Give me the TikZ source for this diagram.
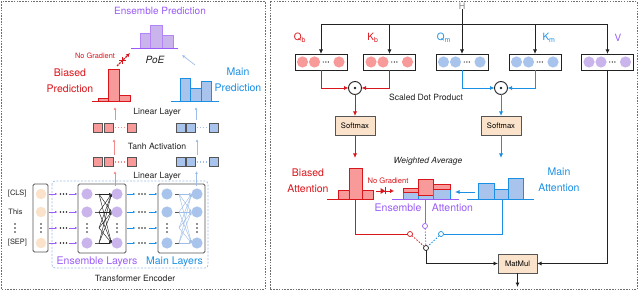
\documentclass[tikz,border=0pt]{standalone}
\usepackage{fontspec}
\setmainfont{TeX Gyre Heros}
\usetikzlibrary{arrows.meta,calc}
\definecolor{cred}{HTML}{D9161C}
\definecolor{cfred}{HTML}{F89A9A}
\definecolor{clred}{HTML}{F48A8A}
\definecolor{cblue}{HTML}{1A8FE3}
\definecolor{cfblue}{HTML}{A9C4EC}
\definecolor{clblue}{HTML}{9FBDE9}
\definecolor{cpurple}{HTML}{9A5CF7}
\definecolor{cfpurple}{HTML}{C9B5EC}
\definecolor{cpeach}{HTML}{FBE3CB}
\definecolor{cgray}{HTML}{555555}
\definecolor{cdark}{HTML}{222222}
\tikzset{
 every node/.style={inner sep=0pt, outer sep=0pt},
 fbig/.style={font=\fontsize{10.5}{15.5}\selectfont, align=center},
 fmid/.style={font=\fontsize{8.6}{10}\selectfont, text=cdark},
 fsml/.style={font=\fontsize{7.4}{9}\selectfont, text=cdark},
 panel/.style={draw=cgray!85, line width=1pt, dash pattern=on 1.5pt off 1.3pt},
 arr/.style={-{Latex[length=4.5pt,width=4pt]}, line width=0.8pt},
 sarr/.style={-{Latex[length=3pt,width=3pt]}, line width=0.7pt},
 tarr/.style={-{Latex[length=2.5pt,width=2.2pt]}, line width=0.45pt},
 vsq/.style={draw=cgray, line width=0.6pt, minimum size=9pt},
 qk/.style={draw=cdark, line width=0.8pt, minimum width=52pt, minimum height=16pt},
 op/.style={circle, draw=cdark, line width=0.9pt, minimum size=13pt, fill=white},
 sbox/.style={draw=cgray, fill=cpeach, line width=0.8pt, font=\fontsize{7.6}{9}\selectfont},
 lay/.style={draw=cgray, line width=0.8pt, rounded corners=1.5pt},
 sc/.style={circle, fill=white, line width=0.7pt, minimum size=5pt, draw},
 hred/.style={fill=cfred, draw=cred, line width=0.8pt},
 hblue/.style={fill=cfblue, draw=cblue, line width=0.8pt},
 hpur/.style={fill=cfpurple, draw=cpurple!75, line width=0.8pt},
}
\newcommand{\qkbox}[3]{%
 \node[qk] (#1) at (#2,62) {};
 \fill[#3] ($(#1.center)+(-18.5,0)$) circle[radius=5.6pt];
 \fill[#3] ($(#1.center)+(-6.5,0)$) circle[radius=5.6pt];
 \fill[#3] ($(#1.center)+(18,0)$) circle[radius=5.6pt];
 \foreach \d in {2.2,4.8,7.4} \fill[cdark] ($(#1.center)+(\d,0)$) circle[radius=0.7pt];
}
\newcommand{\vdotsat}[3]{% x, y, color
 \foreach \d in {-4,0,4} \fill[#3] (#1,#2+\d) circle[radius=0.9pt];
}
\newcommand{\hdotsat}[3]{%
 \foreach \d in {-3,0,3} \fill[#3] (#1+\d,#2) circle[radius=0.8pt];
}
\begin{document}
\begin{tikzpicture}[x=1pt,y=-1pt]
\useasboundingbox (0,0) rectangle (640,291);
\draw[panel] (1.5,1.5) rectangle (265,289.5);
\draw[panel] (270,1.5) rectangle (637,289.5);

%%%%%%%%%%%%%%%% LEFT PANEL
\node[font=\fontsize{10}{12}\selectfont, text=cpurple] (ensp) at (160,11) {Ensemble Prediction};
\draw[hpur] (140,33) rectangle (150,48);
\draw[hpur] (150,25) rectangle (162,48);
\draw[hpur] (162,35) rectangle (173,48);
\draw[cpurple, line width=0.8pt] (131,48) -- (178,48);
\node[font=\fontsize{10}{12}\selectfont\itshape, text=cdark] (poe) at (155,60) {PoE};

\node[font=\fontsize{7.4}{9}\selectfont, text=cred] (ng1) at (95,56) {No Gradient};
\coordinate (ngs) at (117,66); \coordinate (nge) at (130,53);
\draw[cred, line width=1.3pt, dash pattern=on 2pt off 1pt, -{Latex[length=4pt,width=4pt]}] (ngs) -- (nge);
\coordinate (ngm) at (122.5,60.5);
\draw[cred, line width=0.9pt] ($(ngm)+(-3.5,0)$) -- ($(ngm)+(3.5,0)$);
\draw[cred, line width=0.9pt] ($(ngm)+(0,-3.5)$) -- ($(ngm)+(0,3.5)$);

\coordinate (mpUp) at (195,65); \coordinate (poeR) at (182,55);
\draw[clblue, sarr] (mpUp) -- (poeR);

\node[fbig, text=cred] (bpred) at (70,81) {Biased\\Prediction};
\node[fbig, text=cblue] (mpred) at (238,80) {Main\\Prediction};

% biased prediction histogram
\draw[hred] (98,98) rectangle (108,101);
\draw[hred] (108,69) rectangle (119,101);
\draw[hred] (119,95) rectangle (130,101);
\draw[cred, line width=0.8pt] (92,101) -- (130,101);
% main prediction histogram
\draw[hblue] (180,78) rectangle (190,101);
\draw[hblue] (190,88) rectangle (201,101);
\draw[hblue] (201,81) rectangle (211,101);
\draw[cblue, line width=0.8pt] (171,101) -- (219,101);

% linear layer (top)
\node[fmid] (ll1) at (157,112) {Linear Layer};
\coordinate (rA0) at (115,120); \coordinate (rA1) at (115,107);
\coordinate (bA0) at (196,120); \coordinate (bA1) at (196,107);
\draw[clred, sarr] (rA0) -- (rA1);
\draw[clblue, sarr] (bA0) -- (bA1);

% vector rows
\foreach \yy/\nm in {127.5/1,162/2} {
 \node[vsq, fill=cfred] (r\nm a) at (98,\yy) {};
 \node[vsq, fill=cfred] (r\nm b) at (108.5,\yy) {};
 \node[vsq, fill=cfred] (r\nm c) at (131.5,\yy) {};
 \draw[clred, line width=1.3pt, dash pattern=on 1.3pt off 1.7pt] (r\nm b.east) ++(2,0) -- (r\nm c.west);
 \node[vsq, fill=cfblue] (b\nm a) at (180.5,\yy) {};
 \node[vsq, fill=cfblue] (b\nm b) at (190.5,\yy) {};
 \node[vsq, fill=cfblue] (b\nm c) at (213.5,\yy) {};
 \draw[clblue, line width=1.3pt, dash pattern=on 1.3pt off 1.7pt] (b\nm b.east) ++(2,0) -- (b\nm c.west);
}
\node[fmid] (tanh) at (157,146) {Tanh Activation};
\coordinate (rB0) at (114,155); \coordinate (rB1) at (114,139);
\coordinate (bB0) at (197,155); \coordinate (bB1) at (197,139);
\draw[clred, sarr] (rB0) -- (rB1);
\draw[clblue, sarr] (bB0) -- (bB1);
\node[fmid] (ll2) at (157,176) {Linear Layer};

% encoder
\draw[clblue, line width=0.8pt, dash pattern=on 2pt off 1.5pt, rounded corners=3pt] (52,181) rectangle (208,268);
\node[lay, minimum width=15pt, minimum height=68pt] (inp) at (40.5,218) {};
\node[lay, minimum width=48pt, minimum height=69pt] (ens) at (102,218.5) {};
\node[lay, minimum width=47pt, minimum height=69pt] (mainl) at (181.5,218.5) {};
\coordinate (rC0) at (115,186); \coordinate (rC1) at (115,171);
\coordinate (bC0) at (196.5,186); \coordinate (bC1) at (196.5,171);
\draw[clred, sarr] (rC0) -- (rC1);
\draw[clblue, sarr] (bC0) -- (bC1);

\node[fsml, anchor=west] (tcls) at (8,194) {[CLS]};
\node[fsml, anchor=west] (tthis) at (8.5,212) {This};
\vdotsat{15}{228}{cdark}
\node[fsml, anchor=west] (tsep) at (8,243) {[SEP]};

\foreach \yy in {194,212,243} {
 \fill[cpeach] (41,\yy) circle[radius=5.3pt];
 \fill[cfpurple] (87,\yy) circle[radius=5.6pt];
 \fill[cfpurple] (117,\yy) circle[radius=5.6pt];
 \fill[cfblue] (167,\yy) circle[radius=5.6pt];
 \fill[cfblue] (197,\yy) circle[radius=5.6pt];
 \draw[cgray, line width=0.6pt] (95,\yy) -- (98.5,\yy);
 \draw[cgray, line width=0.6pt] (175,\yy) -- (178.5,\yy);
}
\vdotsat{41}{228}{cdark}
\vdotsat{87}{228}{cdark}
\vdotsat{117}{228}{cdark}
\vdotsat{167}{228}{cdark}
\vdotsat{197}{228}{cdark}
\foreach \yy in {194,212,228,243} {
 \draw[cpurple, tarr] (49,\yy) -- (57.5,\yy);
 \hdotsat{63.5}{\yy}{cdark}
 \draw[cpurple, tarr] (69,\yy) -- (77.5,\yy);
 \draw[cblue, tarr] (127,\yy) -- (135.5,\yy);
 \hdotsat{142}{\yy}{cdark}
 \draw[cblue, tarr] (148.5,\yy) -- (157.5,\yy);
 \foreach \zz in {194,212,243} {
  \draw[cdark, tarr] (99,\yy) -- (111.5,\zz);
  \draw[clblue, tarr] (179,\yy) -- (191.5,\zz);
 }
}
\node[font=\fontsize{10.5}{12}\selectfont, text=cpurple] (ensl) at (97,262) {Ensemble Layers};
\node[font=\fontsize{10.5}{12}\selectfont, text=cblue] (mainlt) at (174.5,262) {Main Layers};
\node[font=\fontsize{8.6}{10}\selectfont, text=cdark] (tenc) at (135,278) {Transformer Encoder};

%%%%%%%%%%%%%%%% RIGHT PANEL
\node[font=\fontsize{9}{10}\selectfont, text=gray] (H) at (462,6) {H};
\qkbox{qb}{321}{cfred}
\qkbox{kb}{389.5}{cfred}
\qkbox{qm}{462}{cfblue}
\qkbox{km}{535}{cfblue}
\qkbox{vv}{607.5}{cfpurple}
\coordinate (hj) at (462,24.5);
\draw[cdark, line width=0.8pt] (H.south) -- (hj);
\draw[cdark, line width=0.8pt] (qb.north |- hj) -- (vv.north |- hj);
\foreach \b in {qb,kb,qm,km,vv} \draw[cdark, arr] (\b.north |- hj) -- (\b.north);

\node[font=\fontsize{10}{12}\selectfont, text=cred] (lqb) at (300,38) {Q\textsubscript{b}};
\node[font=\fontsize{10}{12}\selectfont, text=cred] (lkb) at (373,38) {K\textsubscript{b}};
\node[font=\fontsize{10}{12}\selectfont, text=cblue] (lqm) at (444,38) {Q\textsubscript{m}};
\node[font=\fontsize{10}{12}\selectfont, text=cblue] (lkm) at (549,38) {K\textsubscript{m}};
\node[font=\fontsize{10}{12}\selectfont, text=cpurple] (lv) at (618,38) {V};

\node[op] (dotb) at (355,88) {};
\fill[cdark] (dotb.center) circle[radius=1.4pt];
\node[op] (dotm) at (501,88) {};
\fill[cdark] (dotm.center) circle[radius=1.4pt];
\draw[cred, arr] (qb.south) |- (dotb.west);
\draw[cred, arr] (kb.south) |- (dotb.east);
\draw[cblue, arr] (qm.south) |- (dotm.west);
\draw[cblue, arr] (km.south) |- (dotm.east);
\node[fmid] (sdp) at (426,97) {Scaled Dot Product};

\node[sbox, minimum width=40pt, minimum height=19pt] (sfb) at (355,125.5) {Softmax};
\node[sbox, minimum width=40pt, minimum height=19pt] (sfm) at (501,125.5) {Softmax};
\draw[cred, arr] (dotb.south) -- (sfb.north);
\draw[cblue, arr] (dotm.south) -- (sfm.north);
\coordinate (batop) at (355,158);
\coordinate (matop) at (501,158);
\draw[cred, arr] (sfb.south) -- (batop);
\draw[cblue, arr] (sfm.south) -- (matop);

\node[font=\fontsize{8.5}{10}\selectfont\itshape, text=cdark] (wavg) at (428,161) {Weighted Average};

% biased attention
\node[fbig, text=cred] (batt) at (308,181) {Biased\\Attention};
\draw[hred] (338,190) rectangle (349,199);
\draw[hred] (349,168) rectangle (362,199);
\draw[hred] (362,190) rectangle (373,199);
\draw[cred, line width=0.8pt] (327,199) -- (373,199);
\coordinate (babot) at (355.5,199);

% no gradient diode
\node[font=\fontsize{7.6}{9}\selectfont, text=cred] (ng2) at (388,181) {No Gradient};
\coordinate (dg0) at (376,191); \coordinate (dg1) at (394,191);
\draw[cred, line width=0.9pt, -{Latex[length=4pt,width=4.5pt]}] (dg0) -- (dg1);
\fill[cred] (380.5,188) -- (385,191) -- (380.5,194) -- cycle;
\draw[cred, line width=0.9pt] (385.5,187.5) -- (385.5,194.5);

% ensemble attention
\draw[hblue] (403,192) rectangle (418,199);
\draw[hred] (403,188) rectangle (418,192);
\draw[hblue] (418,195) rectangle (433,199);
\draw[hred] (418,179) rectangle (433,195);
\draw[hblue] (433,189) rectangle (450,199);
\draw[hred] (433,184) rectangle (450,189);
\draw[cpurple, line width=0.8pt] (392,199) -- (459,199);
\coordinate (eabot) at (425,199);
\node[font=\fontsize{10.5}{12}\selectfont, text=cpurple] (eat1) at (398,208) {Ensemble};
\node[font=\fontsize{10.5}{12}\selectfont, text=cpurple] (eat2) at (452.5,208) {Attention};

% main attention
\draw[hblue] (478,183) rectangle (494,199);
\draw[hblue] (494,189) rectangle (508,199);
\draw[hblue] (508,178) rectangle (523,199);
\draw[cblue, line width=0.8pt] (467,199) -- (534,199);
\coordinate (mabot) at (502.5,199);
\coordinate (mal) at (475,192); \coordinate (ear) at (455,192);
\draw[cblue, arr] (mal) -- (ear);
\node[fbig, text=cblue] (matt) at (559,180) {Main\\Attention};

% switch
\node[sc, draw=cred] (rsw) at (410,234) {};
\node[sc, draw=cpurple] (psw) at (425,226) {};
\node[sc, draw=cblue] (bsw) at (441,234) {};
\node[sc, draw=cdark] (jsw) at (426,248) {};
\draw[cred, line width=0.8pt] (babot) |- (rsw.west);
\draw[cpurple, line width=0.8pt] (eabot) -- (psw.north);
\draw[cblue, line width=0.8pt] (mabot) |- (bsw.east);
\draw[cred, line width=0.8pt, dash pattern=on 1.5pt off 1.5pt] (rsw) -- (jsw);
\draw[cpurple, line width=0.8pt, dash pattern=on 1.5pt off 1.5pt] (psw) -- (jsw);
\draw[cblue, line width=0.8pt, dash pattern=on 1.5pt off 1.5pt] (bsw) -- (jsw);

\node[sbox, minimum width=39pt, minimum height=19pt] (mm) at (517.5,263.5) {MatMul};
\draw[cdark, arr] (jsw.south) |- (mm.west);
\draw[cdark, arr] (vv.south) |- (mm.east);
\coordinate (out) at (517.5,287);
\draw[cdark, arr] (mm.south) -- (out);
\end{tikzpicture}
\end{document}
